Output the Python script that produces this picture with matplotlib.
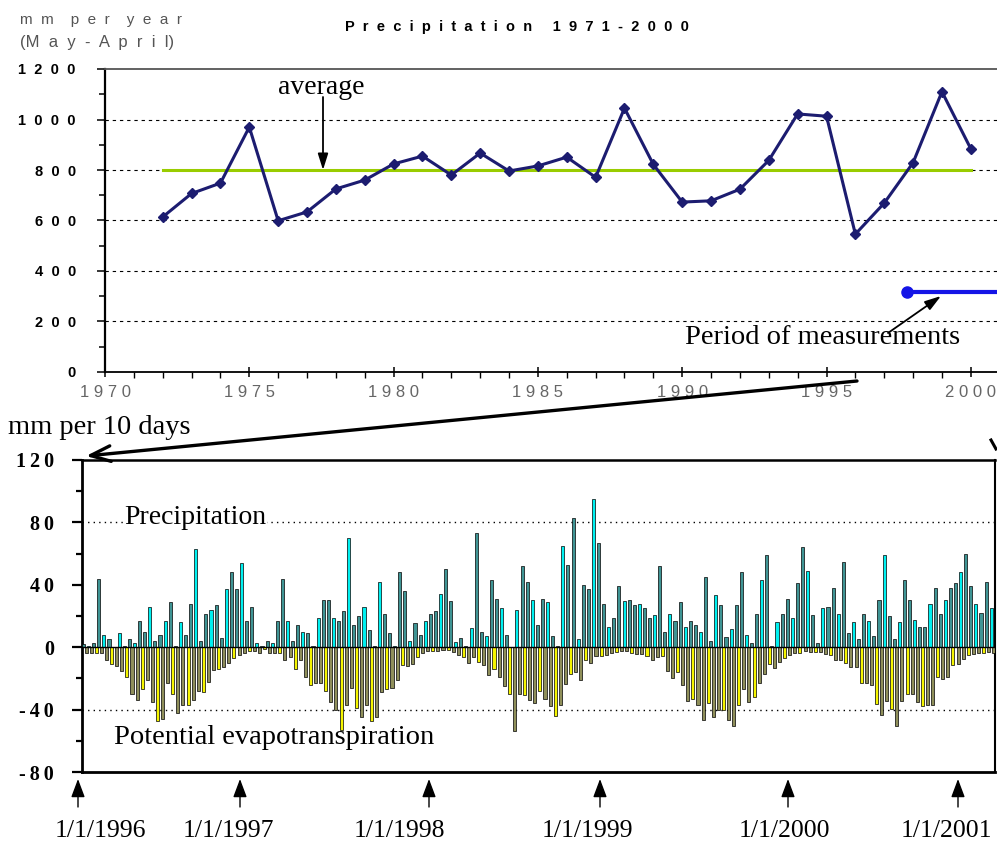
import matplotlib
matplotlib.use("Agg")
import matplotlib.pyplot as plt
from matplotlib.patches import FancyArrowPatch
from matplotlib.lines import Line2D
from matplotlib.ticker import MultipleLocator

# ---------------- data ----------------
years = list(range(1972, 2001))
annual = [614, 707, 748, 970, 599, 634, 725, 760, 824, 855, 780, 867, 796, 816,
          851, 771, 1045, 822, 673, 678, 724, 838, 1022, 1013, 546, 669, 829,
          1110, 884]
average = 800
avg_span = [1972, 2000]
meas_start = 1997.8
meas_end = 2002
meas_level = 318
year_ticks = [1970, 1975, 1980, 1985, 1990, 1995, 2000]
ann_yticks = [0, 200, 400, 600, 800, 1000, 1200]

precip = [2, 1, 3, 44, 8, 5.5, 0, 9, 1, 5, 3, 17, 10, 26, 4, 7.5, 17, 29, 1, 16,
          8, 28, 63, 4, 21, 24, 27, 6, 37, 48, 37.5, 54, 17, 26, 2.5, 0.5,
          4, 2.5, 17, 44, 17, 4, 14, 10, 9, 1, 19, 30, 30, 19, 17, 23, 70, 14, 20,
          26, 11, 0.5, 42, 21, 9, 0.5, 48, 36, 4, 15.5, 8, 17, 21, 23, 34, 50,
          29.5, 3.6, 6, 0.6, 12, 73, 10, 7, 43, 31, 25, 8, 0, 24, 52, 42, 30.5, 14,
          31, 29, 7, 0.5, 65, 53, 83, 5, 40, 37, 95, 67, 28, 13, 19, 39, 29.5,
          30, 27, 28, 25, 19, 20.5, 52, 10, 21, 17, 29, 13, 17, 14, 10, 45, 4, 33.5,
          27, 6.6, 11.7, 27, 48, 8, 2.5, 21, 43, 59, 1, 16, 21, 31, 19, 41, 64,
          49, 20.7, 2.5, 25, 26, 38, 21, 54.6, 9, 16, 5.5, 21, 17, 7, 30, 59, 20,
          5.5, 16, 43, 30, 17.7, 12.8, 12.8, 28, 38, 21, 30, 38, 41, 48, 59.5,
          39.4, 28, 22, 41.6, 25]
etp = [4, 4, 4, 4, 8, 11, 12, 15, 19, 30, 34, 27, 21, 35, 47, 46, 23, 30, 42, 37,
       37, 34, 28, 29, 22, 14.5, 14, 13, 10, 7, 5, 4, 2.5, 2.3, 3.4, 1,
       4, 4, 4, 8, 6.4, 14, 8, 19, 24, 23, 23, 28, 35, 40, 53, 37, 26, 39, 45, 37,
       47, 45, 29, 27, 26, 21, 11.5, 12, 11, 6, 4, 2.5, 2.5, 2.5, 2, 2,
       3, 5, 6.4, 10, 6.4, 9.4, 11.5, 18, 14, 19, 25, 30, 54, 30, 30.5, 34, 36,
       28, 33.5, 38, 44, 37, 23.5, 17.5, 16, 21, 8, 10, 5.5, 5.5, 4.7, 4, 3, 2.5, 2.5,
       3.6, 4.3, 4.3, 5.5, 8, 6, 5.5, 15, 19.6, 16, 24, 34.5, 33.5, 37, 46.7, 36,
       44.6, 40, 40, 46.7, 50.5, 37, 27, 35, 32, 23, 17, 11, 13.6, 9.8, 6.8, 4.7,
       3.8, 3.6, 2.5,
       3, 3, 3, 4.3, 5, 8.3, 8.3, 10, 12.6, 13, 23, 23, 24, 36.7, 43.7, 34.5, 39.4,
       50.5, 34.5, 30, 30, 35, 38, 37, 37, 19.4, 20.7, 19, 11.7, 10.7, 7.7, 4.7,
       4.3, 3.4, 3.4, 3, 4]
dek_yticks = [-80, -40, 0, 40, 80, 120]
dek_grid = [80, -40]
date_labels = ["1/1/1996", "1/1/1997", "1/1/1998", "1/1/1999", "1/1/2000", "1/1/2001"]

# ---------------- layout helpers ----------------
W, H = 997, 842
fig = plt.figure(figsize=(W / 100, H / 100), dpi=100)
fig.patch.set_facecolor("white")


def P(x, y):
    """pixel (from top-left) -> figure fraction"""
    return (x / W, 1 - y / H)


def spaced(s, gap="  "):
    return gap.join(list(s))


SANS = ["Liberation Sans", "DejaVu Sans"]
SERIF = ["Liberation Serif", "DejaVu Serif"]

# ---------------- top chart ----------------
ax1 = fig.add_axes([105 / W, 1 - 372 / H, (997 - 105) / W, (372 - 69) / H])
ax1.set_xlim(1970, 1970 + 892 / 28.86)
ax1.set_ylim(0, 1200)
ax1.spines["right"].set_visible(False)
ax1.spines["left"].set_linewidth(1.6)
ax1.spines["bottom"].set_linewidth(1.3)
ax1.spines["top"].set_linewidth(1.3)
ax1.spines["top"].set_color("#555555")

ax1.set_yticks(ann_yticks)
ax1.yaxis.set_minor_locator(MultipleLocator(100))
ax1.set_yticklabels([spaced(str(v)) for v in ann_yticks], fontsize=10.5,
                    fontweight="bold", family=SANS)
ax1.tick_params(axis="y", which="major", direction="out", length=6, width=1.1, pad=15)
ax1.tick_params(axis="y", which="minor", direction="out", length=4, width=1.1)
ax1.set_xticks(year_ticks)
ax1.xaxis.set_minor_locator(MultipleLocator(1))
ax1.set_xticklabels([spaced(str(v), " ") for v in year_ticks], fontsize=12,
                    color="#666666", family=SANS)
ax1.tick_params(axis="x", which="major", direction="inout", length=7, width=1.1, pad=6)
ax1.tick_params(axis="x", which="minor", direction="out", length=4, width=1.0)
for lab in ax1.get_xticklabels():
    lab.set_x(lab.get_position()[0])

for v in ann_yticks[1:-1]:
    ax1.axhline(v, color="black", lw=0.8, ls=(0, (3, 3.5)), zorder=1)

ax1.plot(avg_span, [average, average], color="#99cc00", lw=2.2, zorder=2)
ax1.plot(years, annual, color="#1c1c70", lw=2.2, marker="D", ms=5.5,
         markerfacecolor="#1c1c70", markeredgecolor="#1c1c70", zorder=3)
ax1.plot([meas_start, meas_end], [meas_level, meas_level], color="#1414e6",
         lw=3, solid_capstyle="butt", zorder=3, clip_on=True)
ax1.plot([meas_start], [meas_level], marker="o", ms=8, color="#1414e6", zorder=4)

# titles / labels of top chart
fig.text(*P(517, 27), spaced("Precipitation") + "     " + spaced("1971-2000"),
         ha="center", va="center", fontsize=10.5, fontweight="bold", family=SANS)
fig.text(*P(20, 20), spaced("mm") + "    " + spaced("per") + "    " + spaced("year"),
         ha="left", va="center", fontsize=11, color="#555555", family=SANS)
fig.text(*P(20, 42), "(" + spaced("May") + "  -  " + spaced("April") + ")",
         ha="left", va="center", fontsize=12, color="#555555", family=SANS)
fig.text(*P(321, 88), "average", ha="center", va="center", fontsize=20, family=SERIF)
fig.text(*P(823, 338), "Period of measurements", ha="center", va="center",
         fontsize=20.5, family=SERIF)


def arrow(p0, p1, style="-|>,head_width=0.22,head_length=0.7", lw=1.3, ms=14):
    a = FancyArrowPatch(P(*p0), P(*p1), transform=fig.transFigure,
                        arrowstyle=style, mutation_scale=ms, lw=lw,
                        color="black", shrinkA=0, shrinkB=0)
    fig.add_artist(a)


arrow((323, 97), (323, 170))
arrow((888, 333), (941, 296))

# ---------------- bottom chart ----------------
n = len(precip)
ax2 = fig.add_axes([82 / W, 1 - 772 / H, (995 - 82) / W, (772 - 460) / H])
ax2.set_xlim(-0.5, n - 0.45)
ax2.set_ylim(-80, 120)
for s in ax2.spines.values():
    s.set_linewidth(2.0)
ax2.spines["right"].set_linewidth(1.5)
ax2.spines["top"].set_linewidth(1.8)

xs = list(range(n))
pcol = ["#00f0f0" if i % 3 == 1 else "#3f9494" for i in xs]
ecol = ["#f5f500" if i % 3 == 2 else "#8f8f5a" for i in xs]
ax2.bar([x - 0.2 for x in xs], precip, width=0.6, color=pcol,
        edgecolor="black", linewidth=0.5, zorder=3)
ax2.bar([x + 0.3 for x in xs], [-v for v in etp], width=0.6, color=ecol,
        edgecolor="black", linewidth=0.5, zorder=3)
ax2.axhline(0, color="black", lw=1.0, zorder=4)
for g in dek_grid:
    ax2.axhline(g, color="black", lw=1.0, ls=(0, (1, 3)), zorder=1)

ax2.set_xticks([])
ax2.set_yticks(dek_yticks)
ax2.yaxis.set_minor_locator(MultipleLocator(20))
ax2.set_yticklabels([spaced(str(v), "\u2009") for v in dek_yticks], fontsize=14.5,
                    fontweight="bold", family=SERIF)
ax2.tick_params(axis="y", which="major", direction="out", length=7, width=1.6, pad=13)
ax2.tick_params(axis="y", which="minor", direction="out", length=4.5, width=1.6)

fig.text(*P(8, 427), "mm per 10 days", ha="left", va="center", fontsize=20.5,
         family=SERIF)
fig.text(*P(195, 517), "Precipitation", ha="center", va="center", fontsize=20,
         family=SERIF, zorder=10,
         bbox=dict(facecolor="white", edgecolor="none", pad=0.5))
fig.text(*P(274, 738), "Potential evapotranspiration", ha="center", va="center",
         fontsize=20.5, family=SERIF)

# connecting arrows
arrow((857, 381), (86, 456), style="->,head_width=0.35,head_length=0.9", lw=2.4, ms=16)
fig.add_artist(Line2D([991 / W, 996 / W], [1 - 440 / H, 1 - 449 / H],
                      transform=fig.transFigure, color="black", lw=2.2))

# date arrows and labels
arrow_x = [78, 240, 429, 600, 788, 958]
label_x = [100, 228, 399, 587, 784, 946]
for ax_, lx, lab in zip(arrow_x, label_x, date_labels):
    arrow((ax_, 807), (ax_, 779), style="-|>,head_width=0.3,head_length=0.8", lw=1.0, ms=14)
    fig.text(*P(lx, 831), lab, ha="center", va="center", fontsize=18.5, family=SERIF)

fig.savefig("out.png", dpi=100, facecolor="white")
